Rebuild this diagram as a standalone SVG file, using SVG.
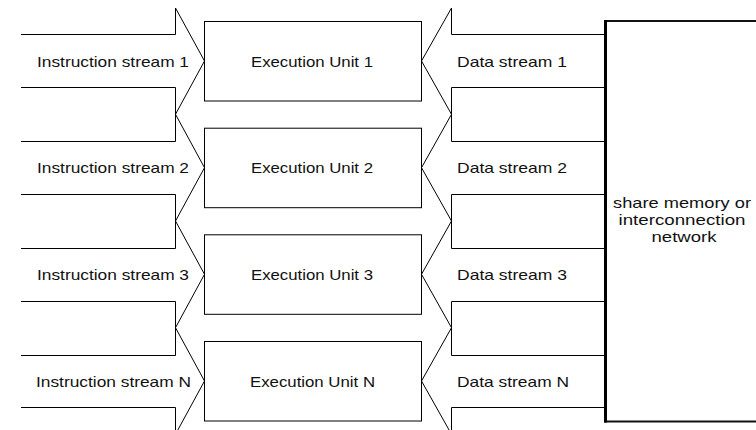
<svg xmlns="http://www.w3.org/2000/svg" width="756" height="430" viewBox="0 0 756 430">
<style>
  .ln { fill: none; stroke: #000; stroke-width: 1; }
  .box { fill: #fff; stroke: #000; stroke-width: 1; }
  .t { font-family: "Liberation Sans", Arial, sans-serif; font-size: 15px; fill: #111; }
  .c { text-anchor: middle; }
</style>
<rect width="756" height="430" fill="#fff"/>
<g id="connectors">
  <g id="instr1"><polyline class="ln" points="21,34.5 175.5,34.5 175.5,8 204.5,61 175.5,114.3 175.5,87.5 21,87.5"/><text class="t" x="37" y="66.5" textLength="152" lengthAdjust="spacingAndGlyphs">Instruction stream 1</text></g>
  <g id="instr2"><polyline class="ln" points="21,141.5 175.5,141.5 175.5,114.3 204.5,167.7 175.5,221 175.5,194.5 21,194.5"/><text class="t" x="37" y="173" textLength="152" lengthAdjust="spacingAndGlyphs">Instruction stream 2</text></g>
  <g id="instr3"><polyline class="ln" points="21,248.5 175.5,248.5 175.5,221 204.5,274.3 175.5,327.7 175.5,301.5 21,301.5"/><text class="t" x="37" y="280" textLength="152" lengthAdjust="spacingAndGlyphs">Instruction stream 3</text></g>
  <g id="instrN"><polyline class="ln" points="21,355.5 175.5,355.5 175.5,327.7 204.5,381 175.5,434.3 175.5,407.5 21,407.5"/><text class="t" x="36" y="386.5" textLength="155" lengthAdjust="spacingAndGlyphs">Instruction stream N</text></g>
  <g id="data1"><polyline class="ln" points="605,34.5 451.5,34.5 451.5,8 421.5,61 451.5,114.3 451.5,87.5 605,87.5"/><text class="t" x="457" y="66.5" textLength="110" lengthAdjust="spacingAndGlyphs">Data stream 1</text></g>
  <g id="data2"><polyline class="ln" points="605,141.5 451.5,141.5 451.5,114.3 421.5,167.7 451.5,221 451.5,194.5 605,194.5"/><text class="t" x="457" y="173" textLength="110" lengthAdjust="spacingAndGlyphs">Data stream 2</text></g>
  <g id="data3"><polyline class="ln" points="605,248.5 451.5,248.5 451.5,221 421.5,274.3 451.5,327.7 451.5,301.5 605,301.5"/><text class="t" x="457" y="280" textLength="110" lengthAdjust="spacingAndGlyphs">Data stream 3</text></g>
  <g id="dataN"><polyline class="ln" points="605,355.5 451.5,355.5 451.5,327.7 421.5,381 451.5,434.3 451.5,407.5 605,407.5"/><text class="t" x="457" y="386.5" textLength="112" lengthAdjust="spacingAndGlyphs">Data stream N</text></g>
</g>
<g id="eu1"><rect class="box" x="204.5" y="21.5" width="217" height="79.5"/><text class="t" x="251" y="66.5" textLength="122" lengthAdjust="spacingAndGlyphs">Execution Unit 1</text></g>
<g id="eu2"><rect class="box" x="204.5" y="128.2" width="217" height="79.5"/><text class="t" x="251" y="173" textLength="122" lengthAdjust="spacingAndGlyphs">Execution Unit 2</text></g>
<g id="eu3"><rect class="box" x="204.5" y="234.8" width="217" height="79.5"/><text class="t" x="251" y="280" textLength="122" lengthAdjust="spacingAndGlyphs">Execution Unit 3</text></g>
<g id="euN"><rect class="box" x="204.5" y="341.5" width="217" height="79.5"/><text class="t" x="250" y="386.5" textLength="125" lengthAdjust="spacingAndGlyphs">Execution Unit N</text></g>
<g id="memory">
  <rect x="605" y="21" width="160" height="400.5" fill="#fff" stroke="#111" stroke-width="2"/>
  <line x1="605.5" y1="20" x2="605.5" y2="422.5" stroke="#000" stroke-width="3"/>
  <text class="t c" x="682" y="208" textLength="138" lengthAdjust="spacingAndGlyphs">share memory or</text>
  <text class="t c" x="682" y="225" textLength="127" lengthAdjust="spacingAndGlyphs">interconnection</text>
  <text class="t c" x="684" y="242" textLength="65" lengthAdjust="spacingAndGlyphs">network</text>
</g>
</svg>
